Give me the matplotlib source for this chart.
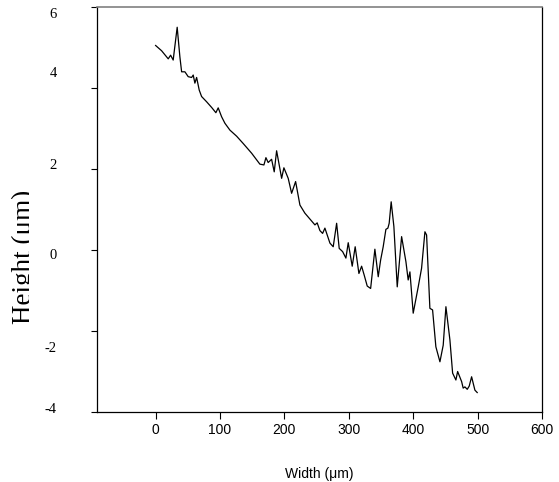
import matplotlib.pyplot as plt
from matplotlib.transforms import Bbox, ScaledTranslation

plt.rcParams['axes.unicode_minus'] = False

# profile
width = [0, 9.3, 19.6, 23.3, 27.3, 33.5, 37.7, 40.4, 45.5, 50.6, 55.9, 58.4, 61.0, 63.7,
         67.7, 71.4, 79.2, 87.0, 93.6, 97.2, 102.5, 107.6, 115.4, 125.8, 136.0, 149.1,
         161.9, 168.2, 171.3, 174.8, 180.1, 184.2, 187.9, 195.7, 199.2, 205.9, 211.2,
         217.4, 224.1, 231.8, 247.4, 250.9, 255.1, 259.3, 262.9, 270.7, 275.8, 281.1,
         285.1, 290.4, 295.5, 299.1, 305.3, 309.9, 315.7, 319.9, 323.9, 328.6, 333.9,
         340.5, 345.7, 349.4, 353.4, 357.6, 360.7, 362.7, 365.8, 370.0, 375.2, 382.0,
         388.7, 392.2, 394.9, 400.0, 407.8, 413.0, 418.2, 420.8, 425.9, 430.1, 435.2,
         441.5, 446.6, 450.8, 457.0, 461.2, 466.3, 469.0, 475.2, 477.6, 480.3, 483.9,
         487.0, 490.7, 495.8, 499.4]
height = [5.05, 4.92, 4.72, 4.81, 4.69, 5.50, 4.77, 4.40, 4.40, 4.28, 4.26, 4.32, 4.12, 4.26,
          3.95, 3.79, 3.66, 3.52, 3.39, 3.51, 3.29, 3.13, 2.96, 2.81, 2.63, 2.39,
          2.12, 2.10, 2.28, 2.16, 2.24, 1.93, 2.45, 1.77, 2.03, 1.77, 1.40,
          1.69, 1.11, 0.91, 0.62, 0.67, 0.48, 0.41, 0.54, 0.17, 0.08, 0.66,
          0.04, -0.04, -0.20, 0.18, -0.40, 0.08, -0.58, -0.40, -0.62, -0.89, -0.95,
          0.02, -0.66, -0.25, 0.08, 0.51, 0.54, 0.66, 1.19, 0.58, -0.91, 0.33,
          -0.29, -0.74, -0.54, -1.56, -0.91, -0.45, 0.45, 0.37, -1.44, -1.48, -2.39,
          -2.76, -2.35, -1.40, -2.22, -3.04, -3.21, -3.00, -3.25, -3.41, -3.38, -3.44,
          -3.36, -3.13, -3.46, -3.52]

xticks = [0, 100, 200, 300, 400, 500, 600]
yticks = [-4, -2, 0, 2, 4, 6]

fig = plt.figure(figsize=(5.59, 4.82), dpi=100)
ax = fig.add_axes([97/559, 1-412/482, 445/559, 405/482])
ax.plot(width, height, color='black', lw=0.9)

ax.set_xlim(-91, 600)
ax.set_ylim(-4, 6)
ax.set_xticks(xticks)
ax.set_yticks(yticks)
ax.tick_params(axis='x', direction='out', length=5, width=0.8, pad=3, labelsize=10)
ax.tick_params(axis='y', direction='out', length=4, width=0.8, pad=25, labelsize=10.5)
for lab in ax.get_xticklabels():
    lab.set_family('Liberation Sans')
# y labels in the original are serif and sit a bit off their ticks
shift = {-4: -4, -2: 16, 0: 4, 2: -5, 4: -16, 6: 6}
for val, lab in zip(yticks, ax.get_yticklabels()):
    lab.set_family('Liberation Serif')
    lab.set_transform(lab.get_transform() + ScaledTranslation(0, -shift[val]/100, fig.dpi_scale_trans))

for s in ['left', 'bottom', 'right']:
    ax.spines[s].set_linewidth(0.9)
ax.spines['top'].set_color('#808080')
ax.spines['top'].set_linewidth(1.2)

fig.text(319.5/559, 1-474/482, 'Width (\u03bcm)', ha='center', va='center',
         fontsize=10, family='Liberation Sans')

yl = fig.text(31/559, 1-257/482, 'Height (\u03bcm)', rotation=90, rotation_mode='anchor',
              ha='center', va='baseline', fontsize=19.5, family='Liberation Serif')
yl.set_clip_box(Bbox([[0, 0], [29, 482]]))
yl.set_clip_on(True)

fig.savefig('out.png', dpi=100)
